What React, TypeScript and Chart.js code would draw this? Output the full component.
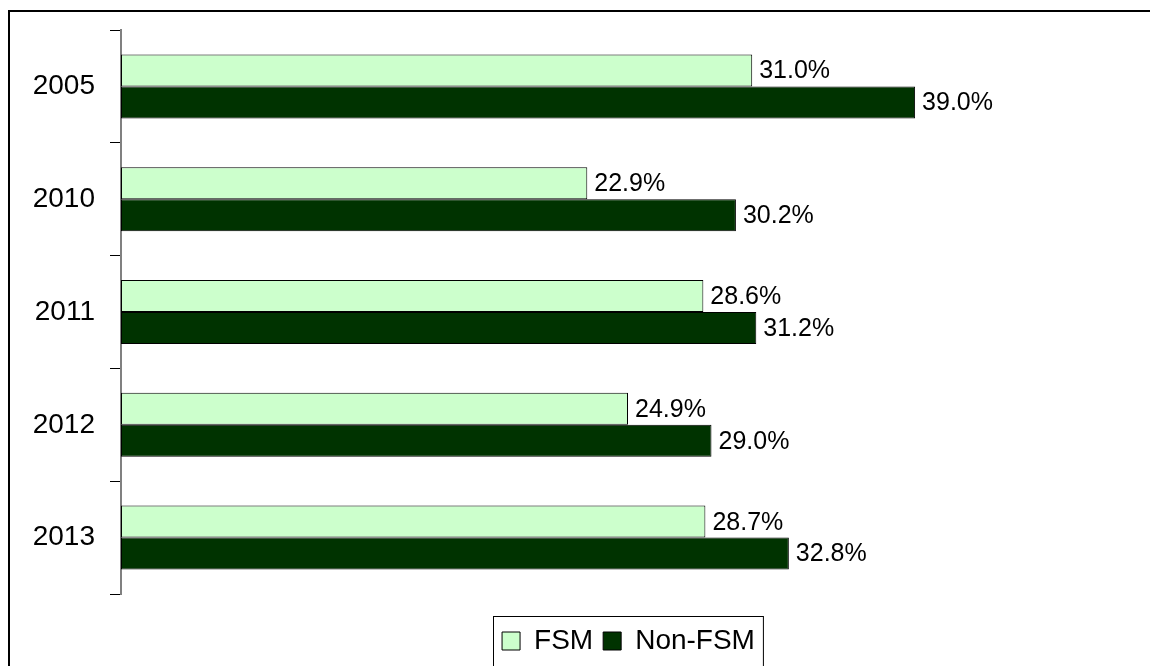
import React, { useEffect, useRef } from "react";
import { Chart, registerables } from "chart.js";

Chart.register(...registerables);

const categories = ["2005", "2010", "2011", "2012", "2013"];
const fsmValues = [31.0, 22.9, 28.6, 24.9, 28.7];
const nonFsmValues = [39.0, 30.2, 31.2, 29.0, 32.8];
const seriesNames = ["FSM", "Non-FSM"];

const FONT = "'Liberation Sans', Arial, sans-serif";

const labelPlugin = {
  id: "barValueLabels",
  afterDatasetsDraw(chart: any) {
    const ctx = chart.ctx;
    ctx.save();
    ctx.font = `25px ${FONT}`;
    ctx.fillStyle = "#000";
    ctx.textAlign = "left";
    ctx.textBaseline = "middle";
    chart.data.datasets.forEach((ds: any, di: number) => {
      const meta = chart.getDatasetMeta(di);
      meta.data.forEach((bar: any, i: number) => {
        const v = ds.data[i];
        ctx.fillText(v.toFixed(1) + "%", bar.x + 7, bar.y + 1);
      });
    });
    ctx.restore();
  },
};

const legendBorderPlugin = {
  id: "legendBorder",
  afterDraw(chart: any) {
    const lg = chart.legend;
    if (!lg || !lg.legendHitBoxes || !lg.legendHitBoxes.length) return;
    const boxes = lg.legendHitBoxes;
    const first = boxes[0];
    const last = boxes[boxes.length - 1];
    const x0 = first.left - 9;
    const x1 = last.left + last.width + 8;
    const y0 = lg.top + 22;
    const ctx = chart.ctx;
    ctx.save();
    ctx.strokeStyle = "#000";
    ctx.lineWidth = 1;
    ctx.strokeRect(Math.round(x0) + 0.5, Math.round(y0) + 0.5, x1 - x0, 200);
    ctx.restore();
  },
};

export default function App() {
  const ref = useRef<HTMLCanvasElement | null>(null);

  useEffect(() => {
    if (!ref.current) return;
    const chart = new Chart(ref.current, {
      type: "bar",
      data: {
        labels: categories,
        datasets: [
          {
            label: seriesNames[0],
            data: fsmValues,
            backgroundColor: "#CCFFCC",
            borderColor: "#000000",
            borderWidth: 1,
            borderSkipped: false,
            categoryPercentage: 0.567,
            barPercentage: 1,
          },
          {
            label: seriesNames[1],
            data: nonFsmValues,
            backgroundColor: "#003300",
            borderColor: "#000000",
            borderWidth: 1,
            borderSkipped: false,
            categoryPercentage: 0.567,
            barPercentage: 1,
          },
        ],
      },
      options: {
        indexAxis: "y",
        animation: false,
        responsive: false,
        maintainAspectRatio: false,
        devicePixelRatio: 1,
        layout: { padding: { top: 18, bottom: 1, left: 0, right: 0 } },
        scales: {
          x: {
            display: false,
            min: 0,
            max: 55.3,
          },
          y: {
            afterFit: (scale: any) => {
              scale.width = 111;
              scale.paddingTop = 0;
              scale.paddingBottom = 0;
            },
            border: { display: true, color: "#808080", width: 2 },
            grid: {
              offset: true,
              drawOnChartArea: false,
              drawTicks: true,
              tickLength: 11,
              color: "#000000",
              lineWidth: 1,
            },
            ticks: {
              padding: 15,
              color: "#000000",
              font: { family: FONT, size: 28 },
            },
          },
        },
        plugins: {
          tooltip: { enabled: false },
          legend: {
            display: true,
            position: "bottom",
            title: {
              display: true,
              text: "",
              padding: { top: 22, bottom: 0 },
              font: { size: 1, lineHeight: 1 },
            },
            labels: {
              boxWidth: 18,
              boxHeight: 18,
              padding: 10,
              color: "#000000",
              font: { family: FONT, size: 28 },
            },
          },
        },
      },
      plugins: [labelPlugin, legendBorderPlugin],
    } as any);
    return () => chart.destroy();
  }, []);

  return (
    <div
      style={{
        position: "fixed",
        left: 8,
        top: 10,
        width: 1142,
        height: 656,
        overflow: "hidden",
        borderTop: "2px solid #000",
        borderLeft: "2px solid #000",
        boxSizing: "border-box",
        background: "#fff",
      }}
    >
      <canvas ref={ref} width={1237} height={654} style={{ display: "block", width: 1237, height: 654 }} />
    </div>
  );
}
